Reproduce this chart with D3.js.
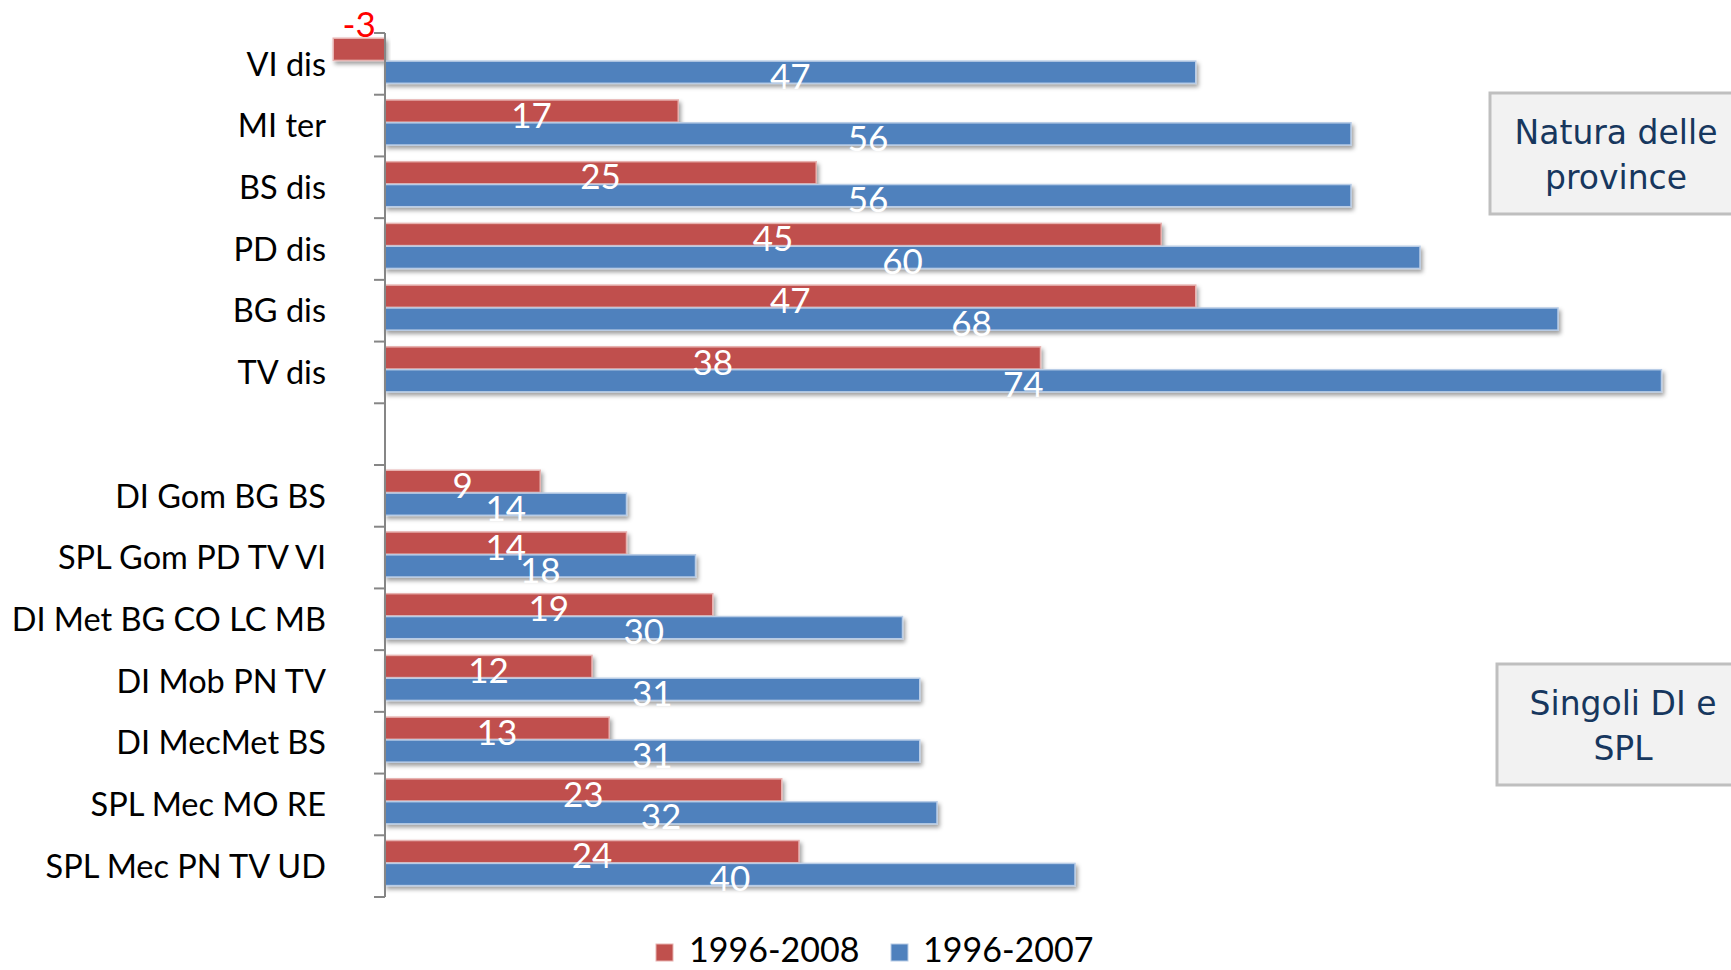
<!DOCTYPE html>
<html>
<head>
<meta charset="utf-8">
<script src="https://cdn.jsdelivr.net/npm/d3@7"></script>
<style>
  html, body { margin: 0; padding: 0; background: #ffffff; }
  svg { display: block; }
</style>
</head>
<body>
<svg id="chart" width="1731" height="970"></svg>
<script>
// ---- data ----
const categories = ["VI dis", "MI ter", "BS dis", "PD dis", "BG dis", "TV dis", "",
  "DI Gom BG BS", "SPL Gom PD TV VI", "DI Met BG CO LC MB", "DI Mob PN TV",
  "DI MecMet BS", "SPL Mec MO RE", "SPL Mec PN TV UD"];
const series1Name = "1996-2008";
const series1 = [-3, 17, 25, 45, 47, 38, null, 9, 14, 19, 12, 13, 23, 24];
const series2Name = "1996-2007";
const series2 = [47, 56, 56, 60, 68, 74, null, 14, 18, 30, 31, 31, 32, 40];
const boxLabels = [["Natura delle", "province"], ["Singoli DI e", "SPL"]];

// ---- setup ----
const svg = d3.select("#chart");
const red = "#C0504D", blue = "#4F81BD";

const defs = svg.append("defs");
const f = defs.append("filter").attr("id", "shadow")
  .attr("x", "-5%").attr("y", "-30%").attr("width", "115%").attr("height", "190%");
f.append("feDropShadow").attr("dx", 2).attr("dy", 3).attr("stdDeviation", 2)
  .attr("flood-color", "#000").attr("flood-opacity", 0.38);

const x = d3.scaleLinear().domain([0, 74]).range([385, 1661.5]);
const y = d3.scaleBand().domain(d3.range(categories.length)).range([33, 897]).padding(0);
const step = y.step();
const inner = d3.scaleBand().domain([0, 1]).range([step * 0.085, step * 0.815]).paddingInner(0.03);

const rows = categories.map((c, i) => ({ i, c, v: [series1[i], series2[i]] }));

// ---- bars ----
const colors = [red, blue];
const strokes = ["#E7B2B0", "#B8CCE6"];
const g = svg.append("g");
rows.forEach(r => {
  r.v.forEach((v, s) => {
    if (v === null) return;
    const x0 = x(Math.min(0, v)), x1 = x(Math.max(0, v));
    g.append("rect")
      .attr("x", x0).attr("y", y(r.i) + inner(s))
      .attr("width", x1 - x0).attr("height", inner.bandwidth())
      .attr("fill", colors[s]).attr("stroke", strokes[s]).attr("stroke-width", 1.5)
      .attr("filter", "url(#shadow)");
  });
});

// ---- axis ----
const axisG = svg.append("g");
axisG.append("line")
  .attr("x1", 385).attr("x2", 385).attr("y1", y.range()[0]).attr("y2", y.range()[1])
  .attr("stroke", "#868686").attr("stroke-width", 2);
d3.range(categories.length + 1).forEach(k => {
  const ty = y.range()[0] + k * step;
  axisG.append("line").attr("x1", 374).attr("x2", 385).attr("y1", ty).attr("y2", ty)
    .attr("stroke", "#868686").attr("stroke-width", 2);
});

// ---- category labels ----
svg.append("g").selectAll("text").data(rows).join("text")
  .attr("x", 326).attr("y", d => y(d.i) + step / 2)
  .attr("dy", "0.36em")
  .attr("text-anchor", "end")
  .attr("font-family", "Lato, 'Open Sans', sans-serif")
  .attr("font-size", 32.5).attr("fill", "#000")
  .text(d => d.c);

// ---- value labels ----
const lab = svg.append("g").attr("font-family", "Lato, 'Open Sans', sans-serif").attr("font-size", 35);
rows.forEach(r => {
  r.v.forEach((v, s) => {
    if (v === null) return;
    const cy = y(r.i) + inner(s) + inner.bandwidth() / 2;
    if (v < 0) {
      lab.append("text")
        .attr("x", x(v / 2)).attr("y", y(r.i) + inner(s) - 14)
        .attr("dy", "0.36em").attr("text-anchor", "middle")
        .attr("fill", "#FF0000").text(v);
    } else {
      lab.append("text")
        .attr("x", x(v / 2)).attr("y", cy + 4)
        .attr("dy", "0.36em").attr("text-anchor", "middle")
        .attr("fill", "#FFFFFF").text(v);
    }
  });
});

// ---- side boxes ----
const boxes = [
  { bx: 1490, by: 93, cx: 1616, lines: boxLabels[0] },
  { bx: 1497, by: 664, cx: 1623, lines: boxLabels[1] }
];
boxes.forEach(b => {
  svg.append("rect").attr("x", b.bx).attr("y", b.by).attr("width", 260).attr("height", 121)
    .attr("fill", "#F2F2F2").attr("stroke", "#BFBFBF").attr("stroke-width", 3);
  b.lines.forEach((t, k) => {
    svg.append("text").attr("x", b.cx).attr("y", b.by + 39 + k * 45)
      .attr("dy", "0.36em").attr("text-anchor", "middle")
      .attr("font-family", "'DejaVu Sans', Verdana, sans-serif").attr("font-size", 33)
      .attr("fill", "#17375E").text(t);
  });
});

// ---- legend ----
const legend = [
  { name: series1Name, color: red, stroke: "#E7B2B0", sx: 656, tx: 689 },
  { name: series2Name, color: blue, stroke: "#B8CCE6", sx: 891, tx: 923 }
];
const lg = svg.append("g");
legend.forEach(l => {
  lg.append("rect").attr("x", l.sx).attr("y", 944).attr("width", 17).attr("height", 17)
    .attr("fill", l.color).attr("stroke", l.stroke).attr("stroke-width", 1);
  lg.append("text").attr("x", l.tx).attr("y", 950).attr("dy", "0.36em")
    .attr("font-family", "Lato, 'Open Sans', sans-serif").attr("font-size", 34)
    .attr("fill", "#000").text(l.name);
});
</script>
</body>
</html>
